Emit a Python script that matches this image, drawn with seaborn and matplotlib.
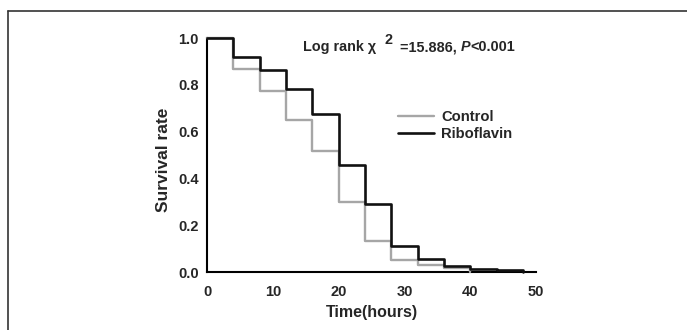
import numpy as np
import pandas as pd
import matplotlib
matplotlib.use("Agg")
import matplotlib.pyplot as plt
import seaborn as sns
from matplotlib.lines import Line2D

# ---- data ----
control_time = [0, 4, 8, 12, 16, 20, 24, 28, 32, 36, 40]
control_surv = [1.0, 0.869, 0.772, 0.650, 0.519, 0.298, 0.131, 0.053, 0.031, 0.018, 0.0]
ribo_time = [0, 4, 8, 12, 16, 20, 24, 28, 32, 36, 40, 44, 48]
ribo_surv = [1.0, 0.919, 0.865, 0.781, 0.674, 0.456, 0.289, 0.110, 0.054, 0.027, 0.014, 0.008, 0.0]
groups = ["Control", "Riboflavin"]
x_ticks = [0, 10, 20, 30, 40, 50]
y_ticks = [0.0, 0.2, 0.4, 0.6, 0.8, 1.0]

sns.set_theme(style="white")
plt.rcParams["font.family"] = ["Liberation Sans", "DejaVu Sans"]
plt.rcParams["font.weight"] = "bold"

df = pd.concat([
    pd.DataFrame({"Time": control_time, "Survival": control_surv, "Group": groups[0]}),
    pd.DataFrame({"Time": ribo_time, "Survival": ribo_surv, "Group": groups[1]}),
])

W, H = 687, 330
fig = plt.figure(figsize=(W / 100, H / 100), dpi=100)
fig.patch.set_facecolor("white")

# outer frame (top and left visible)
fig.add_artist(Line2D([8 / W, 8 / W], [0, 1 - 11 / H], transform=fig.transFigure,
                      color="#333333", lw=1.2))
fig.add_artist(Line2D([8 / W, 1], [1 - 11 / H, 1 - 11 / H], transform=fig.transFigure,
                      color="#333333", lw=1.2))

left, right, top, bottom = 207, 536, 38, 272
ax = fig.add_axes([left / W, (H - bottom) / H, (right - left) / W, (bottom - top) / H])

palette = {"Control": "#a6a6a6", "Riboflavin": "#111111"}
sns.lineplot(data=df, x="Time", y="Survival", hue="Group", palette=palette,
             drawstyle="steps-post", ax=ax, legend=False, estimator=None, sort=False)
for line in ax.lines:
    line.set_clip_on(False)
ax.lines[0].set_linewidth(1.7)
ax.lines[0].set_zorder(3)
ax.lines[1].set_linewidth(1.9)
ax.lines[1].set_zorder(4)

ax.set_xlim(0, 50)
ax.set_ylim(0, 1.0)
ax.set_xticks(x_ticks)
ax.set_yticks(y_ticks)
ax.set_xticklabels([str(v) for v in x_ticks], fontsize=10.5, fontweight="bold")
ax.set_yticklabels([f"{v:.1f}" for v in y_ticks], fontsize=10.5, fontweight="bold")
ax.tick_params(axis="y", direction="in", length=3, width=1.2, color="black", pad=6)
ax.tick_params(axis="x", direction="in", length=3, width=1.2, color="black", pad=9)
for s in ["top", "right"]:
    ax.spines[s].set_visible(False)
for s in ["left", "bottom"]:
    ax.spines[s].set_linewidth(1.5)
    ax.spines[s].set_color("black")
ax.set_xlabel("Time(hours)", fontsize=11.5, fontweight="bold", labelpad=5)
ax.set_ylabel("Survival rate", fontsize=12.5, fontweight="bold", labelpad=5)
ax.yaxis.set_label_coords(-(207 - 171) / (right - left), (bottom - 160) / (bottom - top))

handles = [Line2D([], [], color=palette[g], lw=1.7 if g == "Control" else 1.9) for g in groups]
ax.legend(handles, groups, loc="upper left",
          bbox_to_anchor=((385 - left) / (right - left), (bottom - 97) / (bottom - top)),
          frameon=False, handlelength=2.4, handletextpad=0.5,
          labelspacing=0.2, prop={"weight": "bold", "size": 10.6})

# annotation
fig.canvas.draw()
renderer = fig.canvas.get_renderer()
x0 = 303 / W
yb = 1 - 51 / H
pieces = [("Log rank \u03c7  ", "normal", 0), ("2", "normal", 1), ("  =15.886, ", "normal", 0),
          ("P", "italic", 0), ("<0.001", "normal", 0)]
x = x0
for txt, style, sup in pieces:
    t = fig.text(x, yb + (7 / H if sup else 0), txt, fontsize=10.4,
                 fontweight="bold", fontstyle=style, va="baseline", ha="left")
    bb = t.get_window_extent(renderer)
    x += bb.width / W

fig.savefig("out.png", dpi=100)
